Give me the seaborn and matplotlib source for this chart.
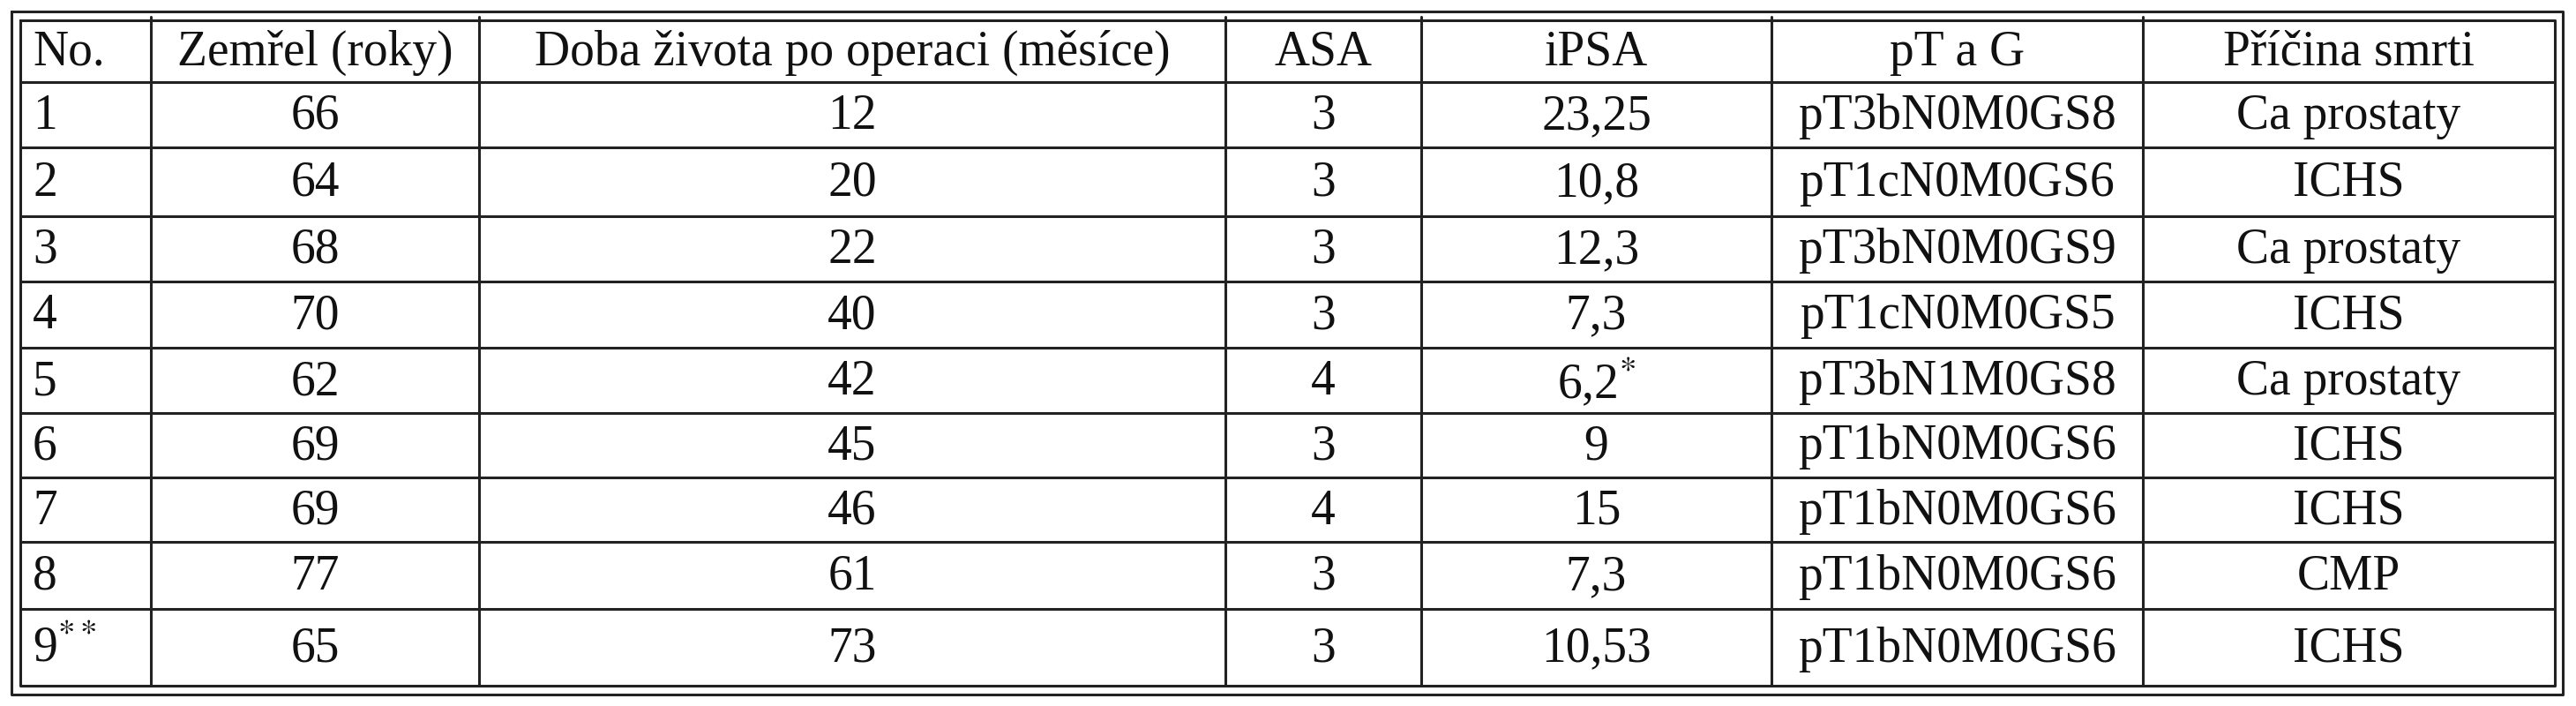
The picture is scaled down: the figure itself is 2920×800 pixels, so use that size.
import matplotlib
matplotlib.use("Agg")
import matplotlib.pyplot as plt
import seaborn as sns

sns.set_theme(style="white")
plt.rcParams['font.family'] = ['Liberation Serif', 'DejaVu Serif']
plt.rcParams['mathtext.fontset'] = 'stix'

# data
headers = ["No.", "Zemřel (roky)", "Doba života po operaci (měsíce)", "ASA", "iPSA", "pT a G", "Příčina smrti"]
cislo = ["1", "2", "3", "4", "5", "6", "7", "8", "9$^{**}$"]
zemrel = [66, 64, 68, 70, 62, 69, 69, 77, 65]
doba = [12, 20, 22, 40, 42, 45, 46, 61, 73]
asa = [3, 3, 3, 3, 4, 3, 4, 3, 3]
ipsa = ["23,25", "10,8", "12,3", "7,3", "6,2$^{*}$", "9", "15", "7,3", "10,53"]
ptg = ["pT3bN0M0GS8", "pT1cN0M0GS6", "pT3bN0M0GS9", "pT1cN0M0GS5", "pT3bN1M0GS8",
       "pT1bN0M0GS6", "pT1bN0M0GS6", "pT1bN0M0GS6", "pT1bN0M0GS6"]
pricina = ["Ca prostaty", "ICHS", "Ca prostaty", "ICHS", "Ca prostaty", "ICHS", "ICHS", "CMP", "ICHS"]

# layout (pixels)
col_x = [23, 171, 543, 1389, 1611, 2008, 2429, 2896]
row_y = [23, 93, 167, 245, 319, 394, 468, 541, 614, 690, 777]

fig = plt.figure(figsize=(29.2, 8), dpi=100)
ax = fig.add_axes([0, 0, 1, 1])
ax.set_xlim(0, 2920)
ax.set_ylim(800, 0)
ax.axis('off')

lw = 2.2
c = '#222222'
# outer double border
ax.plot([13, 2905, 2905, 13, 13], [13, 13, 787, 787, 13], color=c, lw=lw)
ax.plot([col_x[0], col_x[-1], col_x[-1], col_x[0], col_x[0]],
        [row_y[0], row_y[0], row_y[-1], row_y[-1], row_y[0]], color=c, lw=lw)
for y in row_y[1:-1]:
    ax.plot([col_x[0], col_x[-1]], [y, y], color=c, lw=lw)
for x in col_x[1:-1]:
    ax.plot([x, x], [row_y[0] - 4, row_y[-1]], color=c, lw=lw)

columns = [cislo, zemrel, doba, asa, ipsa, ptg, pricina]
fs = 40

def put(ci, ri, txt):
    y = (row_y[ri] + row_y[ri + 1]) / 2 + 2
    if ci == 0:
        ax.text(col_x[0] + 14, y, str(txt), fontsize=fs, ha='left', va='center', color='#111111')
    else:
        ax.text((col_x[ci] + col_x[ci + 1]) / 2, y, str(txt), fontsize=fs, ha='center', va='center', color='#111111')

for ci, h in enumerate(headers):
    put(ci, 0, h)
for ci, col in enumerate(columns):
    for ri, v in enumerate(col):
        put(ci, ri + 1, v)

fig.savefig("out.png", dpi=100, facecolor='white')
